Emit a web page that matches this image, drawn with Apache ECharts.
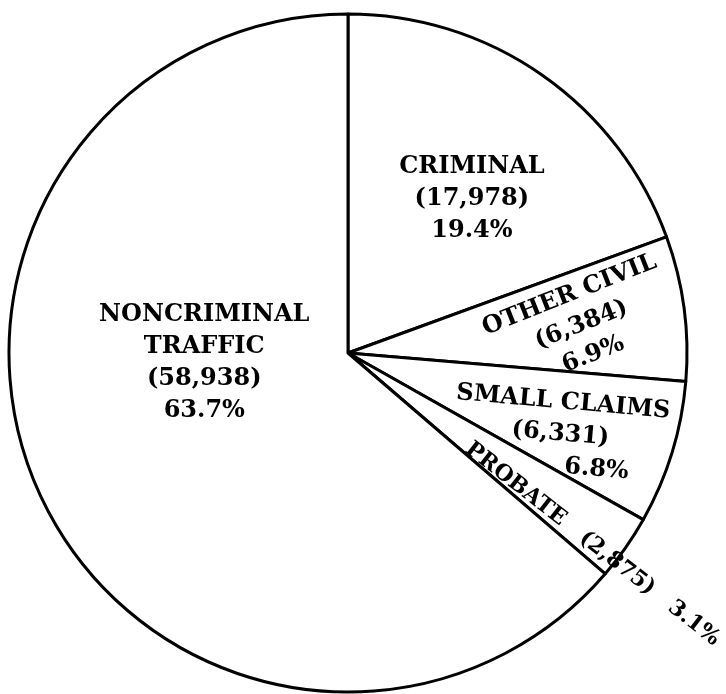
<!DOCTYPE html>
<html>
<head>
<meta charset="utf-8">
<script src="https://cdn.jsdelivr.net/npm/echarts@6/dist/echarts.min.js"></script>
<style>
  html, body { margin: 0; padding: 0; background: #fff; }
  #chart { width: 726px; height: 694px; }
</style>
</head>
<body>
<div id="chart"></div>
<script>
// case counts by type, clockwise from 12 o'clock
const categories = ['CRIMINAL', 'OTHER CIVIL', 'SMALL CLAIMS', 'PROBATE', 'NONCRIMINAL\nTRAFFIC'];
const caseCounts = [17978, 6384, 6331, 2875, 58938];

// label nudges from the library's inside position: [dx, dy, rotate]
// (dx/dy act in the label's own rotated frame)
const labelTweaks = [
    [25, -13, 0],
    [60, 18, 21.6],
    [50, 26, -5],
    [138, 9, -38],
    [13, -62, 0]
];

const total = caseCounts.reduce((a, b) => a + b, 0);
const fmtCount = (v) => v.toLocaleString('en-US');
const fmtPct = (v) => (v / total * 100).toFixed(1) + '%';

const chart = echarts.init(document.getElementById('chart'));

const textStyle = {
    color: '#000',
    fontFamily: 'DejaVu Serif',
    fontWeight: 'bold',
    fontSize: 24,
    lineHeight: 32
};

chart.setOption({
    animation: false,
    backgroundColor: '#fff',
    series: [
        {
            type: 'pie',
            center: [348, 353],
            radius: [0, 339],
            startAngle: 90,
            clockwise: true,
            avoidLabelOverlap: false,
            silent: true,
            itemStyle: {
                color: '#fff',
                borderColor: '#000',
                borderWidth: 3
            },
            label: {
                show: true,
                position: 'inside',
                ...textStyle,
                formatter: (p) => {
                    const pct = fmtPct(p.value);
                    if (p.dataIndex === 3) {
                        return '{small|' + p.name + '   (' + fmtCount(p.value) + ')   ' + pct + '}';
                    }
                    if (p.dataIndex === 2) {
                        return p.name + '\n(' + fmtCount(p.value) + ')\n{shift|' + pct + '}';
                    }
                    return p.name + '\n(' + fmtCount(p.value) + ')\n' + pct;
                },
                rich: {
                    shift: { ...textStyle, padding: [0, 0, 0, 78] },
                    small: { ...textStyle, fontSize: 22 }
                }
            },
            labelLine: { show: false },
            labelLayout: (params) => {
                const t = labelTweaks[params.dataIndex];
                return { dx: t[0], dy: t[1], rotate: t[2] };
            },
            emphasis: { disabled: true },
            data: categories.map((name, i) => ({ name: name, value: caseCounts[i] }))
        }
    ]
});

window.addEventListener('resize', () => chart.resize());
</script>
</body>
</html>
